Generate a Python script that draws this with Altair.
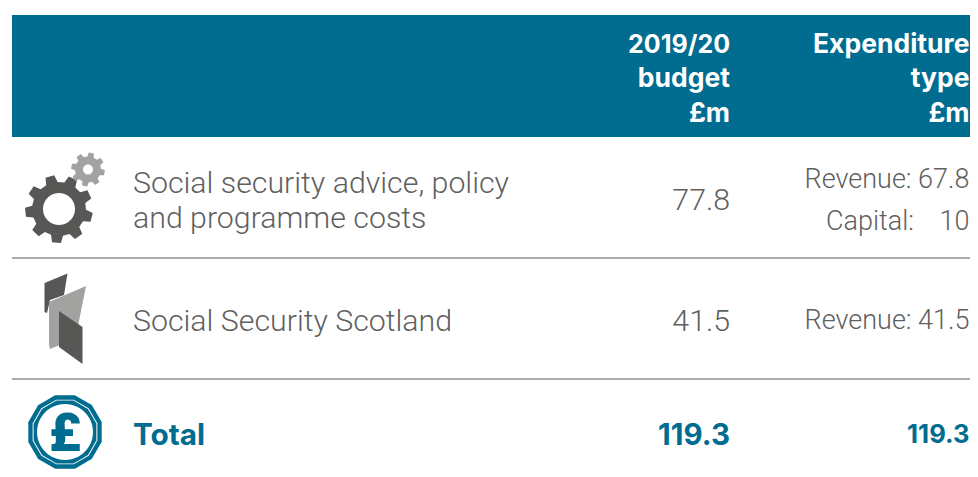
import math
import altair as alt
import pandas as pd

# ---- table content ----
header_budget = ["2019/20", "budget", "£m"]
header_type = ["Expenditure", "type", "£m"]
row_labels = ["Social security advice, policy", "and programme costs", "Social Security Scotland"]
budget_values = ["77.8", "41.5"]
type_values = ["Revenue: 67.8", "Capital:", "10", "Revenue: 41.5"]
total_label = "Total"
total_budget = "119.3"
total_type = "119.3"

# ---- layout (image pixels) ----
TEAL = "#006c8f"
GREY = "#5f5f5f"
LEFT, RIGHT, TOP, BOTTOM = 12, 970, 15, 137
COL_LABEL, COL_BUDGET, COL_TYPE = 133, 730, 969.5
FONT = "Roboto"
BOLD = "Inter"

xs = alt.Scale(domain=[8, 970], range=[0, 962])
ys = alt.Scale(domain=[8, 469], range=[0, 461])
X = alt.X("x:Q", scale=xs, axis=None)
Y = alt.Y("y:Q", scale=ys, axis=None)


def text_layer(texts, x, y, align, size, weight, color, font=FONT):
    df = pd.DataFrame({"t": texts, "x": x, "y": y})
    return (
        alt.Chart(df)
        .mark_text(align=align, baseline="alphabetic", font=font, fontSize=size,
                   fontWeight=weight, color=color)
        .encode(x=X, y=Y, text="t:N")
    )


def poly(points):
    return "M" + "L".join(f"{a:.2f},{b:.2f}" for a, b in points) + "Z"


def ring(r, n, rot=0.0, reverse=False):
    pts = [(r * math.cos(rot + 2 * math.pi * i / n), r * math.sin(rot + 2 * math.pi * i / n)) for i in range(n)]
    return poly(pts[::-1] if reverse else pts)


def gear(outer, root, hole, teeth, rot):
    pts = []
    step = 2 * math.pi / teeth
    for i in range(teeth):
        a = rot + i * step
        for frac, r in ((-0.32, root), (-0.19, outer), (0.19, outer), (0.32, root)):
            pts.append((r * math.cos(a + frac * step), r * math.sin(a + frac * step)))
    return poly(pts) + ring(hole, 40, reverse=True)


def icon(path, x, y, color):
    # size 4 makes one path unit equal one pixel
    df = pd.DataFrame({"x": [x], "y": [y]})
    return (
        alt.Chart(df)
        .mark_point(shape=path, size=4, filled=True, fill=color, stroke=None, opacity=1, clip=False)
        .encode(x=X, y=Y)
    )


band = alt.Chart(pd.DataFrame({"x": [LEFT], "x2": [RIGHT], "y": [TOP], "y2": [BOTTOM]})).mark_rect(color=TEAL).encode(
    x=X, x2="x2:Q", y=Y, y2="y2:Q")

rules = alt.Chart(pd.DataFrame({"x": [LEFT, LEFT], "x2": [RIGHT, RIGHT], "y": [258, 379]})).mark_rule(
    color="#8f8f8f", strokeWidth=1.5).encode(x=X, x2="x2:Q", y=Y)

layers = [band, rules]
layers.append(text_layer(header_budget[:1], [COL_BUDGET], [53], "right", 25, 700, "white", BOLD))
layers.append(text_layer(header_budget[1:], [COL_BUDGET] * 2, [87, 122], "right", 26.5, 700, "white", BOLD))
layers.append(text_layer(header_type, [COL_TYPE] * 3, [53, 87, 122], "right", 26.5, 700, "white", BOLD))
layers.append(text_layer(row_labels, [COL_LABEL] * 3, [193, 228, 331], "left", 30.3, 300, GREY))
layers.append(text_layer(budget_values, [COL_BUDGET] * 2, [210, 331], "right", 30.3, 300, GREY))
layers.append(text_layer(type_values, [COL_TYPE, 914, COL_TYPE, COL_TYPE], [188, 230, 230, 329], "right", 27, 300, GREY))
layers.append(text_layer([total_label], [COL_LABEL], [445], "left", 29.7, 700, TEAL, BOLD))
layers.append(text_layer([total_budget], [COL_BUDGET], [445], "right", 29.5, 700, TEAL, BOLD))
layers.append(text_layer([total_type], [COL_TYPE], [443], "right", 25.6, 700, TEAL, BOLD))

# icons: gears
layers.append(icon(gear(34, 27, 16, 9, 0.25), 59, 209, "#575756"))
layers.append(icon(gear(17, 13, 5, 8, 0.2), 88, 169.5, "#a2a2a0"))
# icons: shards
layers.append(icon(poly([(44.5, 283), (67.5, 273.5), (64, 295), (50, 300), (47, 313), (44.5, 312)]), 0, 0, "#575756"))
layers.append(icon(poly([(49, 302), (86, 286), (78, 326), (60, 345), (50, 349), (49, 345)]), 0, 0, "#a2a2a0"))
layers.append(icon(poly([(59, 311), (82.5, 327), (82.5, 364), (59, 347)]), 0, 0, "#575756"))
# icons: pound badge
cx, cy = 65, 432
layers.append(icon(ring(38, 12, 0.26), cx, cy, TEAL))
layers.append(icon(ring(33.5, 12, 0.26), cx, cy, "white"))
layers.append(icon(ring(32.5, 12, 0.26), cx, cy, TEAL))
layers.append(icon(ring(28, 48), cx, cy, "white"))
layers.append(text_layer(["£"], [cx], [451], "center", 54, 900, TEAL))

chart = (
    alt.layer(*layers)
    .properties(width=962, height=461, padding=0, autosize="none")
    .configure_view(stroke=None)
)
chart.save("out.html", embed_options={"renderer": "svg", "actions": False})
